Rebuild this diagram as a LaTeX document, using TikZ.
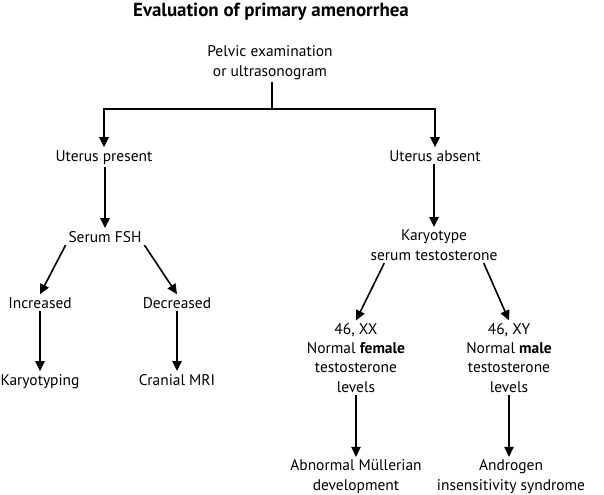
\documentclass[tikz,border=0pt]{standalone}
\usepackage{fontspec}
\setmainfont{PT Sans}
\usetikzlibrary{arrows.meta,calc}

\begin{document}
\begin{tikzpicture}[x=0.75pt,y=-0.75pt,
  txt/.style={font=\fontsize{11.6}{14.4}\selectfont, align=center, inner sep=2pt, anchor=base},
  arr/.style={line width=1.2pt, -{Triangle[length=7.5pt,width=7pt]}}]
\useasboundingbox (0,0) rectangle (604,494);
\node[font=\bfseries\fontsize{14.2}{16}\selectfont, anchor=base] (title) at (271,16) {Evaluation of primary amenorrhea};
% multi-line nodes sit on their last baseline
\node[txt] (pelvic) at (270,76) {Pelvic examination\\or ultrasonogram};
% first split
\node[txt] (present) at (104,161) {Uterus present};
\node[txt] (absent) at (435,161) {Uterus absent};
\coordinate (split) at (272,109);
\draw[line width=1.2pt] (pelvic.south -| split) -- (split);
\draw[arr] (split) -| (present.north);
\draw[arr] (split) -| (absent.north);
% uterus present
\node[txt] (fsh) at (105,242) {Serum FSH};
\node[txt] (incr) at (40,308) {Increased};
\node[txt] (decr) at (177,308) {Decreased};
\node[txt] (karyo) at (40,385) {Karyotyping};
\node[txt] (mri) at (177,385) {Cranial MRI};
\draw[arr] (present.south -| fsh) -- (fsh.north);
\draw[arr] (fsh.south west) -- (incr.north);
\draw[arr] (fsh.south east) -- (decr.north);
\draw[arr] (incr) -- (karyo.north);
\draw[arr] (decr) -- (mri.north);
% uterus absent
\node[txt] (kt) at (434,260) {Karyotype\\serum testosterone};
\node[txt] (xx) at (356,392) {46, XX\\Normal \textbf{female}\\testosterone\\levels};
\node[txt] (xy) at (509,392) {46, XY\\Normal \textbf{male}\\testosterone\\levels};
\node[txt] (mull) at (356,490) {Abnormal Müllerian\\development};
\node[txt] (ais) at (511,490) {Androgen\\insensitivity syndrome};
\draw[arr] (absent.south -| kt) -- (kt.north);
\draw[arr] ($(kt.south)!0.75!(kt.south west)$) -- (xx.north);
\draw[arr] ($(kt.south)!0.75!(kt.south east)$) -- (xy.north);
\draw[arr] (xx.south) -- (mull.north);
\draw[arr] (xy.south) -- (ais.north -| xy);
\end{tikzpicture}
\end{document}
